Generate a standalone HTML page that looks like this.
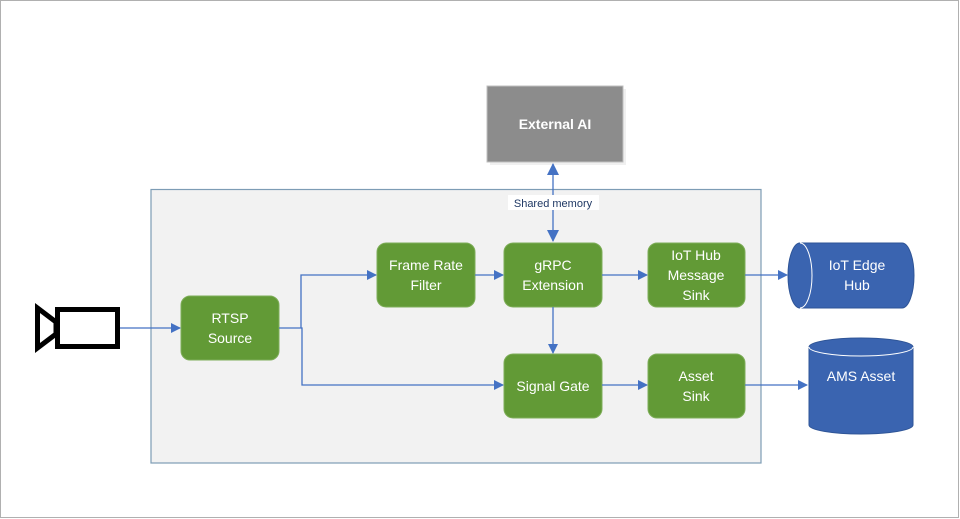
<!DOCTYPE html>
<html><head><meta charset="utf-8"><style>
html,body{margin:0;padding:0;background:#fff;}
svg{display:block;}
text{font-family:"Liberation Sans",sans-serif;}
</style></head><body>
<svg width="960" height="519" viewBox="0 0 960 519" xmlns="http://www.w3.org/2000/svg">
<defs>
<marker id="a" markerWidth="10" markerHeight="10" refX="9" refY="5" orient="auto" markerUnits="userSpaceOnUse"><path d="M0,0 L10,5 L0,10 Z" fill="#4472c4"/></marker>
<marker id="b" markerWidth="12" markerHeight="12" refX="11" refY="6" orient="auto-start-reverse" markerUnits="userSpaceOnUse"><path d="M0,0 L12,6 L0,12 Z" fill="#4472c4"/></marker>
</defs>
<rect x="0.5" y="0.5" width="958" height="517" fill="#fff" stroke="#b0b0b0"/>
<rect x="151" y="189.5" width="610" height="273.5" fill="#f2f2f2" stroke="#7d9cb5" stroke-width="1.2"/>
<rect x="490" y="89" width="136" height="76" fill="#f0f0f0"/>
<rect x="487" y="86" width="136" height="76" fill="#8c8c8c" stroke="#bfbfbf"/>
<text x="555" y="129" font-size="14" font-weight="bold" fill="#fff" text-anchor="middle">External AI</text>
<line x1="553" y1="164" x2="553" y2="241" stroke="#4472c4" stroke-width="1.3" marker-start="url(#b)" marker-end="url(#b)"/>
<rect x="508" y="195" width="91" height="15" fill="#fff"/>
<text x="553" y="207" font-size="11" fill="#1f3864" text-anchor="middle">Shared memory</text>
<g fill="#629a36" stroke="#7fae5a" stroke-width="1">
<rect x="181" y="296" width="98" height="64" rx="9"/>
<rect x="377" y="243" width="98" height="64" rx="9"/>
<rect x="504" y="243" width="98" height="64" rx="9"/>
<rect x="648" y="243" width="97" height="64" rx="9"/>
<rect x="504" y="354" width="98" height="64" rx="9"/>
<rect x="648" y="354" width="97" height="64" rx="9"/>
</g>
<g font-size="14" fill="#fff" text-anchor="middle">
<text x="230" y="323">RTSP</text><text x="230" y="343">Source</text>
<text x="426" y="270">Frame Rate</text><text x="426" y="290">Filter</text>
<text x="553" y="270">gRPC</text><text x="553" y="290">Extension</text>
<text x="696" y="260">IoT Hub</text><text x="696" y="280">Message</text><text x="696" y="300">Sink</text>
<text x="553" y="391">Signal Gate</text>
<text x="696" y="381">Asset</text><text x="696" y="401">Sink</text>
</g>
<g stroke="#4472c4" stroke-width="1.3" fill="none">
<line x1="119" y1="328" x2="180" y2="328" marker-end="url(#a)"/>
<polyline points="279,328 301,328 301,275 376,275" marker-end="url(#a)"/>
<polyline points="301,328 302,328 302,385 503,385" marker-end="url(#a)"/>
<line x1="475" y1="275" x2="503" y2="275" marker-end="url(#a)"/>
<line x1="602" y1="275" x2="647" y2="275" marker-end="url(#a)"/>
<line x1="553" y1="307" x2="553" y2="353" marker-end="url(#a)"/>
<line x1="602" y1="385" x2="647" y2="385" marker-end="url(#a)"/>
<line x1="745" y1="275" x2="787" y2="275" marker-end="url(#a)"/>
<line x1="745" y1="385" x2="807" y2="385" marker-end="url(#a)"/>
</g>
<path d="M37.5,308 L56,322 L56,334 L37.5,348 Z" fill="#fff" stroke="#000" stroke-width="5" stroke-linejoin="miter"/>
<rect x="57.5" y="309.5" width="60" height="37" fill="#fff" stroke="#000" stroke-width="5"/>
<path d="M800,243 L902,243 A12,32.5 0 0 1 902,308 L800,308 A12,32.5 0 0 1 800,243 Z" fill="#3a64b0" stroke="#2f5597"/>
<path d="M800,243 A12,32.5 0 0 1 800,308" fill="none" stroke="#fff" stroke-width="1"/>
<text x="857" y="270" font-size="14" fill="#fff" text-anchor="middle">IoT Edge</text>
<text x="857" y="290" font-size="14" fill="#fff" text-anchor="middle">Hub</text>
<path d="M809,347 A52,9 0 0 1 913,347 L913,425 A52,9 0 0 1 809,425 Z" fill="#3a64b0" stroke="#2f5597"/>
<path d="M809,347 A52,9 0 0 0 913,347" fill="none" stroke="#fff" stroke-width="1"/>
<text x="861" y="381" font-size="14" fill="#fff" text-anchor="middle">AMS Asset</text>
</svg>
</body></html>
